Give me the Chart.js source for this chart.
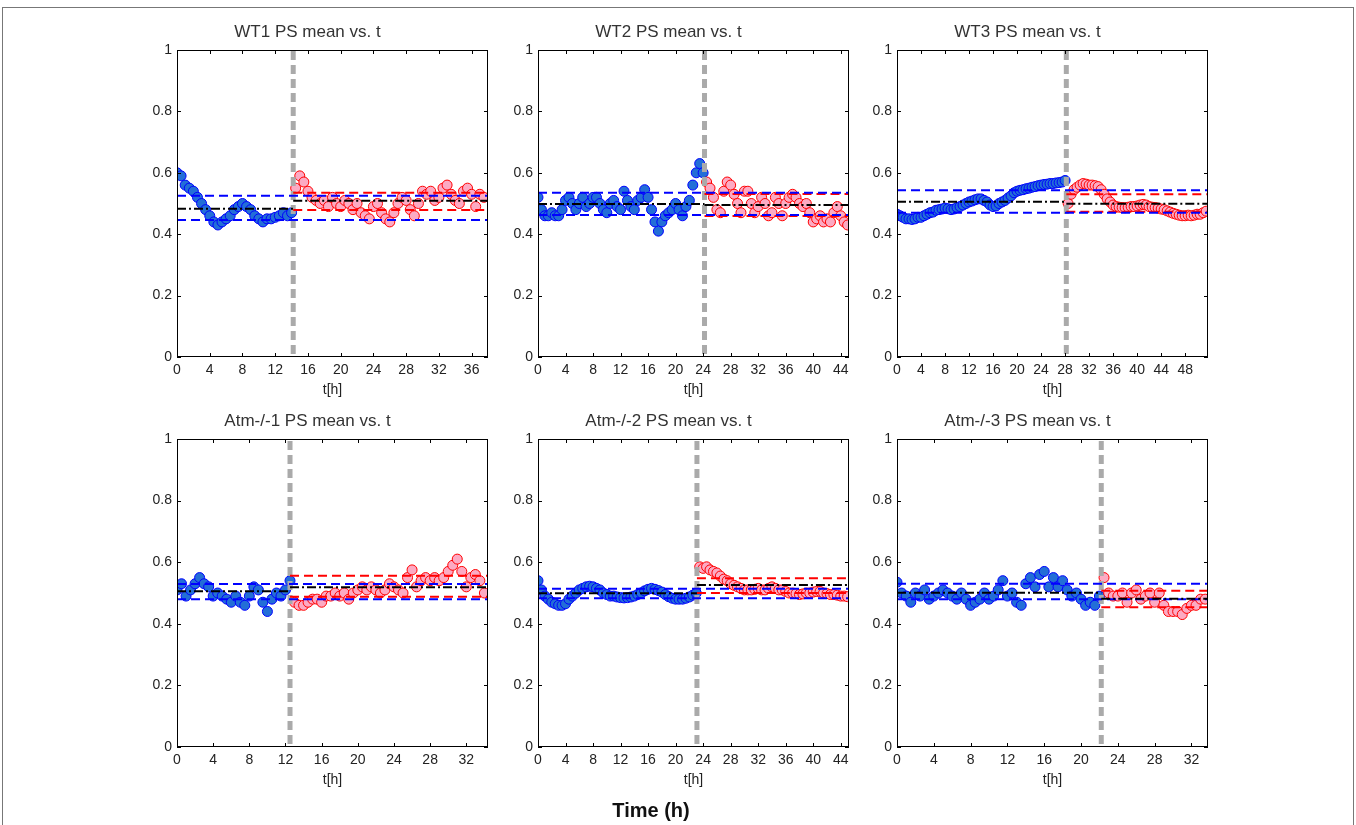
<!DOCTYPE html>
<html>
<head>
<meta charset="utf-8">
<script src="https://cdn.jsdelivr.net/npm/chart.js@4.4.0/dist/chart.umd.min.js"></script>
<style>
  body { margin: 0; background: #fff; width: 1356px; height: 825px; position: relative; overflow: hidden;
         font-family: "Liberation Sans", Arial, sans-serif; }
  #frame { position: absolute; left: 2px; top: 7px; width: 1350px; height: 840px; border: 1px solid #777; }
  .panel { position: absolute; }
  #xlabel { position: absolute; left: 551px; width: 200px; top: 798px; line-height: 24px;
            text-align: center; font-weight: bold; font-size: 20px; color: #111; }
</style>
</head>
<body>
<div id="frame"></div>
<canvas class="panel" id="p0"></canvas>
<canvas class="panel" id="p1"></canvas>
<canvas class="panel" id="p2"></canvas>
<canvas class="panel" id="p3"></canvas>
<canvas class="panel" id="p4"></canvas>
<canvas class="panel" id="p5"></canvas>
<div id="xlabel">Time (h)</div>

<script>
// --- panel titles and axis extents ---
const panelTitles = ['WT1 PS mean vs. t', 'WT2 PS mean vs. t', 'WT3 PS mean vs. t',
                     'Atm-/-1 PS mean vs. t', 'Atm-/-2 PS mean vs. t', 'Atm-/-3 PS mean vs. t'];
const xMax = [38, 45.2, 51.8, 34.4, 45.2, 33.8];
const switchTime = [14.2, 24.2, 28.2, 12.5, 23.1, 22.2];   // grey dashed line
const afterStart = [14.5, 24.5, 28.5, 13, 23.5, 22.5];      // first red sample
const sampleStep = 0.5;                                     // hours between samples
const yTicks = [0, 0.2, 0.4, 0.6, 0.8, 1];

// --- reference levels (horizontal lines) ---
const blueUpper  = [0.525, 0.535, 0.543, 0.529, 0.514, 0.530];
const blueLower  = [0.446, 0.4625, 0.470, 0.480, 0.483, 0.480];
const meanBefore = [0.483, 0.498, 0.506, 0.506, 0.499, 0.501];
const meanAfter  = [0.509, 0.495, 0.499, 0.519, 0.526, 0.481];
const redUpper   = [0.535, 0.531, 0.530, 0.556, 0.548, 0.507];
const redLower   = [0.479, 0.459, 0.473, 0.488, 0.500, 0.454];

// --- PS mean values, before (blue, from t=0) and after (red) ---
const wt1Before = [0.60,0.59,0.56,0.55,0.54,0.52,0.50,0.48,0.46,0.44,0.43,0.44,0.45,0.46,0.48,0.49,0.50,0.49,0.48,0.46,0.45,0.44,0.45,0.45,0.455,0.46,0.47,0.46,0.47];
const wt1After = [0.55,0.59,0.57,0.54,0.52,0.51,0.50,0.51,0.49,0.52,0.50,0.49,0.51,0.50,0.48,0.50,0.47,0.46,0.45,0.49,0.50,0.47,0.45,0.44,0.47,0.50,0.52,0.51,0.48,0.46,0.50,0.54,0.53,0.54,0.51,0.52,0.55,0.56,0.53,0.51,0.50,0.54,0.55,0.53,0.49,0.53,0.52];

const wt2Before = [0.52,0.48,0.46,0.46,0.47,0.46,0.46,0.48,0.51,0.52,0.50,0.48,0.50,0.52,0.49,0.50,0.52,0.52,0.50,0.48,0.47,0.50,0.51,0.49,0.48,0.54,0.51,0.49,0.48,0.51,0.52,0.545,0.52,0.48,0.44,0.41,0.44,0.46,0.47,0.48,0.50,0.48,0.46,0.49,0.51,0.56,0.60,0.63,0.60];
const wt2After = [0.57,0.55,0.52,0.48,0.47,0.54,0.57,0.56,0.53,0.50,0.47,0.54,0.54,0.50,0.47,0.49,0.52,0.50,0.46,0.47,0.52,0.50,0.46,0.50,0.52,0.53,0.52,0.50,0.49,0.50,0.47,0.44,0.45,0.46,0.44,0.45,0.44,0.47,0.49,0.46,0.44,0.43];

const wt3Before = [0.465,0.46,0.455,0.45,0.45,0.448,0.45,0.455,0.455,0.46,0.465,0.47,0.472,0.478,0.48,0.482,0.485,0.483,0.48,0.482,0.487,0.49,0.495,0.50,0.505,0.508,0.512,0.515,0.515,0.51,0.505,0.495,0.49,0.492,0.50,0.505,0.51,0.518,0.525,0.535,0.54,0.543,0.545,0.548,0.55,0.553,0.555,0.558,0.56,0.562,0.563,0.565,0.565,0.567,0.568,0.57,0.575];
const wt3After = [0.50,0.53,0.545,0.553,0.56,0.565,0.563,0.56,0.56,0.558,0.555,0.545,0.53,0.515,0.505,0.495,0.49,0.488,0.487,0.486,0.488,0.49,0.49,0.492,0.495,0.497,0.495,0.49,0.488,0.487,0.485,0.482,0.48,0.476,0.472,0.468,0.465,0.462,0.46,0.46,0.462,0.46,0.462,0.465,0.465,0.47,0.475];

const atm1Before = [0.51,0.53,0.49,0.51,0.53,0.55,0.53,0.52,0.49,0.50,0.49,0.48,0.47,0.49,0.47,0.46,0.49,0.52,0.51,0.47,0.44,0.48,0.50,0.49,0.51,0.54];
const atm1After = [0.47,0.46,0.46,0.47,0.48,0.48,0.47,0.49,0.49,0.50,0.49,0.50,0.48,0.50,0.51,0.52,0.51,0.52,0.51,0.50,0.51,0.53,0.52,0.51,0.50,0.55,0.575,0.52,0.54,0.55,0.54,0.55,0.54,0.55,0.57,0.59,0.61,0.57,0.52,0.55,0.56,0.54,0.50];

const atm2Before = [0.54,0.51,0.49,0.48,0.47,0.465,0.46,0.46,0.465,0.48,0.49,0.50,0.51,0.515,0.52,0.522,0.52,0.515,0.51,0.50,0.495,0.49,0.49,0.487,0.485,0.484,0.485,0.487,0.49,0.495,0.50,0.507,0.512,0.515,0.512,0.508,0.503,0.495,0.488,0.483,0.48,0.48,0.48,0.483,0.487,0.493,0.50];
const atm2After = [0.585,0.58,0.585,0.575,0.57,0.565,0.555,0.545,0.54,0.53,0.525,0.52,0.515,0.51,0.51,0.51,0.512,0.515,0.51,0.51,0.515,0.52,0.515,0.51,0.51,0.505,0.50,0.50,0.498,0.495,0.497,0.50,0.50,0.503,0.505,0.505,0.50,0.498,0.495,0.495,0.493,0.49,0.49,0.488];

const atm3Before = [0.535,0.50,0.49,0.47,0.50,0.49,0.51,0.48,0.49,0.50,0.51,0.50,0.49,0.48,0.50,0.48,0.46,0.47,0.48,0.50,0.48,0.49,0.51,0.54,0.49,0.50,0.47,0.46,0.53,0.55,0.52,0.56,0.57,0.52,0.55,0.52,0.54,0.51,0.49,0.50,0.48,0.46,0.47,0.46,0.49];
const atm3After = [0.55,0.50,0.49,0.49,0.50,0.47,0.50,0.51,0.48,0.49,0.50,0.47,0.50,0.46,0.44,0.44,0.44,0.43,0.45,0.46,0.46,0.48,0.48];

const beforeSeries = [wt1Before, wt2Before, wt3Before, atm1Before, atm2Before, atm3Before];
const afterSeries = [wt1After, wt2After, wt3After, atm1After, atm2After, atm3After];

// --- layout of the six plot boxes (pixel position of the axes) ---
const plotLefts = [177, 538, 897];
const plotTops = [50, 439];
const plotHeights = [307, 308];
const plotWidth = 311;

const FONT = '"Liberation Sans", Arial, sans-serif';
const TEXT = '#222';

// toPoints: pair each value with its sample time
function toPoints(values, start) {
    return values.map((v, i) => ({ x: start + i * sampleStep, y: v }));
}

function hLine(x0, x1, y, color, dash, order) {
    return {
        type: 'line', showLine: true, data: [{ x: x0, y: y }, { x: x1, y: y }],
        borderColor: color, borderWidth: 2, borderDash: dash, pointRadius: 0, fill: false, order: order
    };
}

// draws the MATLAB style box with inward ticks on all four sides
const boxPlugin = {
    id: 'box',
    afterDraw(chart) {
        const { ctx, chartArea: a, scales } = chart;
        ctx.save();
        ctx.strokeStyle = '#000';
        ctx.lineWidth = 1;
        ctx.strokeRect(Math.round(a.left) + 0.5, Math.round(a.top) + 0.5,
                       Math.round(a.right - a.left) - 1, Math.round(a.bottom - a.top) - 1);
        ctx.beginPath();
        scales.x.ticks.forEach(t => {
            const px = Math.round(scales.x.getPixelForValue(t.value)) + 0.5;
            ctx.moveTo(px, a.bottom); ctx.lineTo(px, a.bottom - 4);
            ctx.moveTo(px, a.top); ctx.lineTo(px, a.top + 4);
        });
        scales.y.ticks.forEach(t => {
            const py = Math.round(scales.y.getPixelForValue(t.value)) + 0.5;
            ctx.moveTo(a.left, py); ctx.lineTo(a.left + 4, py);
            ctx.moveTo(a.right, py); ctx.lineTo(a.right - 4, py);
        });
        ctx.stroke();
        ctx.restore();
    }
};

function buildPanel(i) {
    const row = Math.floor(i / 3), col = i % 3;
    const canvas = document.getElementById('p' + i);
    const w = plotWidth + 65, h = plotHeights[row] + 95;
    canvas.width = w; canvas.height = h;
    canvas.style.width = w + 'px'; canvas.style.height = h + 'px';
    canvas.style.left = (plotLefts[col] - 50) + 'px';
    canvas.style.top = (plotTops[row] - 45) + 'px';

    const xm = xMax[i], ts = switchTime[i];
    const datasets = [
        {
            label: 'before', data: toPoints(beforeSeries[i], 0), order: 5,
            pointRadius: 5, pointBorderWidth: 1,
            pointBackgroundColor: 'rgb(35,110,215)', pointBorderColor: 'rgb(0,0,255)'
        },
        {
            label: 'after', data: toPoints(afterSeries[i], afterStart[i]), order: 4,
            pointRadius: 5, pointBorderWidth: 1,
            pointBackgroundColor: 'rgb(252,170,195)', pointBorderColor: 'rgb(255,0,0)'
        },
        {
            type: 'line', showLine: true, data: [{ x: ts, y: 0.01 }, { x: ts, y: 1 }],
            borderColor: 'rgb(170,170,170)', borderWidth: 5, borderDash: [9, 5],
            pointRadius: 0, fill: false, order: 3
        },
        hLine(ts, xm, redUpper[i], 'rgb(255,0,0)', [9, 5], 2),
        hLine(ts, xm, redLower[i], 'rgb(255,0,0)', [9, 5], 2),
        hLine(0, xm, blueUpper[i], 'rgb(0,0,255)', [9, 5], 1),
        hLine(0, xm, blueLower[i], 'rgb(0,0,255)', [9, 5], 1),
        hLine(0, ts, meanBefore[i], '#000', [9, 3, 2, 3], 0),
        hLine(ts, xm, meanAfter[i], '#000', [9, 3, 2, 3], 0)
    ];

    new Chart(canvas.getContext('2d'), {
        type: 'scatter',
        data: { datasets: datasets },
        options: {
            responsive: false,
            animation: false,
            devicePixelRatio: 1,
            layout: { padding: { left: 0, right: 15, top: 0, bottom: 0 } },
            plugins: {
                legend: { display: false },
                tooltip: { enabled: false },
                title: {
                    display: true, text: panelTitles[i], color: '#333',
                    font: { family: FONT, size: 17, weight: 'normal', lineHeight: '20px' },
                    padding: { top: 17, bottom: 8 }
                }
            },
            scales: {
                x: {
                    type: 'linear', min: 0, max: xm,
                    ticks: { stepSize: 4, includeBounds: false, autoSkip: false, maxRotation: 0,
                             padding: 5, color: TEXT, font: { family: FONT, size: 14 } },
                    grid: { display: false, drawTicks: false },
                    border: { display: false },
                    title: { display: true, text: 't[h]', color: TEXT,
                             font: { family: FONT, size: 14 }, padding: { top: 0, bottom: 8 } },
                    afterFit: s => { s.height = 50; }
                },
                y: {
                    min: 0, max: 1,
                    afterBuildTicks: s => { s.ticks = yTicks.map(v => ({ value: v })); },
                    ticks: { padding: 5, color: TEXT, font: { family: FONT, size: 14 },
                             callback: v => String(+v.toFixed(1)) },
                    grid: { display: false, drawTicks: false },
                    border: { display: false },
                    afterFit: s => { s.width = 50; }
                }
            }
        },
        plugins: [boxPlugin]
    });
}

for (let i = 0; i < 6; i++) buildPanel(i);
</script>
</body>
</html>
